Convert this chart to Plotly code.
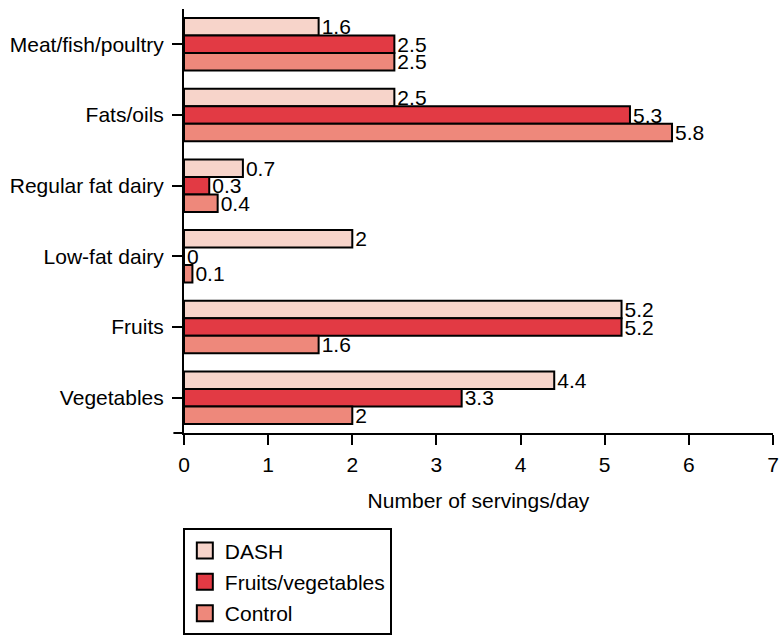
import plotly.graph_objects as go

categories = ["Meat/fish/poultry", "Fats/oils", "Regular fat dairy", "Low-fat dairy", "Fruits", "Vegetables"]
dash_vals = [1.6, 2.5, 0.7, 2, 5.2, 4.4]
fv_vals = [2.5, 5.3, 0.3, 0, 5.2, 3.3]
control_vals = [2.5, 5.8, 0.4, 0.1, 1.6, 2]
x_ticks = [0, 1, 2, 3, 4, 5, 6, 7]

series = [
    ("DASH", dash_vals, "#F7D4CA"),
    ("Fruits/vegetables", fv_vals, "#E23A44"),
    ("Control", control_vals, "#EE887B"),
]

FONT = "Liberation Sans, Arial, Helvetica, sans-serif"
FS = 21

fig = go.Figure()
for i, (name, vals, color) in enumerate(series):
    fig.add_trace(go.Bar(
        y=categories, x=vals, name=name, orientation="h",
        marker=dict(color=color, line=dict(color="black", width=2)),
        text=[f"{v:g}" for v in vals], textposition="outside",
        textfont=dict(size=FS, color="black", family=FONT),
        constraintext="none", cliponaxis=False,
        showlegend=False,
    ))

# legend proxies (square swatches like the reference legend)
for i, (name, vals, color) in enumerate(series):
    fig.add_trace(go.Scatter(
        x=[None], y=[None], mode="markers", name=name,
        marker=dict(symbol="square", size=18, color=color, line=dict(color="black", width=2)),
        legendgroup=f"g{i}", showlegend=True,
    ))

fig.update_layout(
    width=779, height=636,
    margin=dict(l=184, r=6, t=9, b=203, autoexpand=False),
    paper_bgcolor="white", plot_bgcolor="white",
    barmode="group", bargap=0.257, bargroupgap=0,
    font=dict(family=FONT, size=FS, color="black"),
    showlegend=True,
    legend=dict(
        x=-0.002, y=-0.225, xanchor="left", yanchor="top",
        bordercolor="black", borderwidth=2, bgcolor="white",
        font=dict(size=FS, family=FONT, color="black"),
        tracegroupgap=1, traceorder="grouped",
    ),
    xaxis=dict(
        range=[0, 7], tickvals=x_ticks, ticktext=[str(t) for t in x_ticks],
        showgrid=False, zeroline=False,
        showline=True, linecolor="black", linewidth=2,
        ticks="outside", ticklen=10, tickwidth=2, tickcolor="black",
        tickfont=dict(size=FS), ticklabelstandoff=2, ticklabeloverflow="allow",
        title=dict(text="Number of servings/day", font=dict(size=FS), standoff=18),
    ),
    yaxis=dict(
        categoryorder="array", categoryarray=categories,
        range=[5.5, -0.5],
        showgrid=False, zeroline=False,
        showline=True, linecolor="black", linewidth=2,
        ticks="outside", ticklen=10, tickwidth=1.5, tickcolor="black",
        tickfont=dict(size=FS), ticklabelstandoff=4,
    ),
)

fig.add_shape(type="line", xref="paper", yref="paper", x0=-0.018, x1=0, y0=0, y1=0,
              line=dict(color="black", width=2))

fig.write_html("out.html",
               config={"displayModeBar": False},
               post_script="document.body.style.margin='0';document.body.style.overflow='hidden';")
